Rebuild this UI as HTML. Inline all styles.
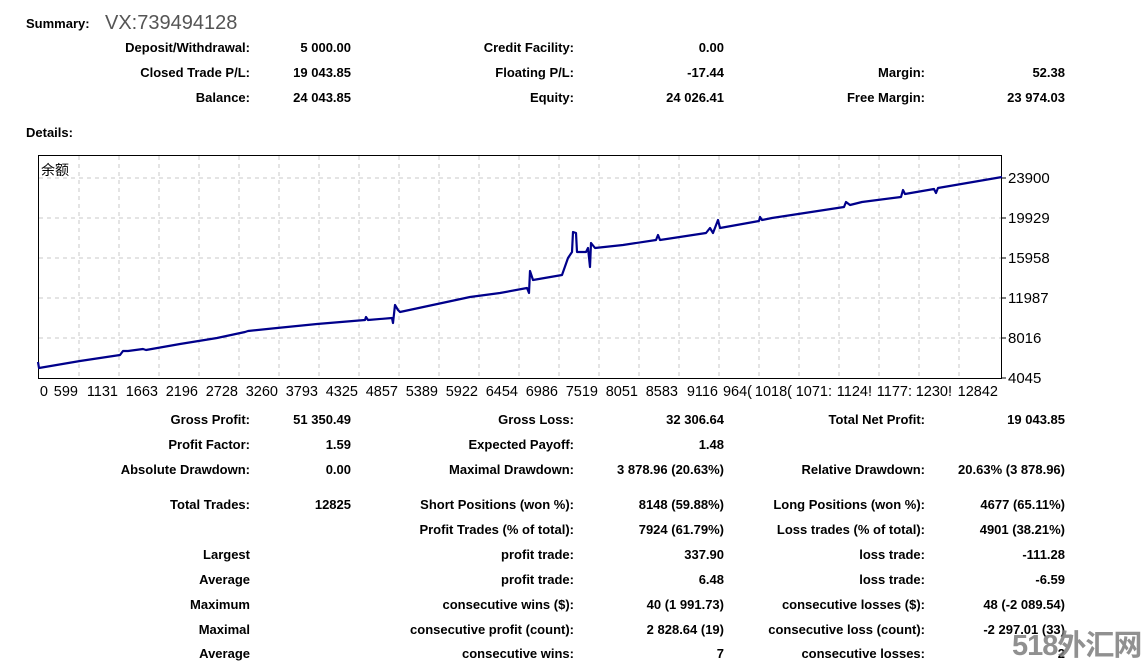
<!DOCTYPE html>
<html><head><meta charset="utf-8"><style>
body{margin:0;width:1145px;height:672px;background:#fff;position:relative;overflow:hidden;font-family:"Liberation Sans","Noto Sans CJK SC",sans-serif;color:#000}
.t{position:absolute;font-weight:bold;font-size:13px;line-height:16px;white-space:nowrap;text-align:right}
</style></head><body>
<div class="t" style="left:26px;top:16px;text-align:left">Summary:</div>
<div style="position:absolute;left:105px;top:11px;font-size:20px;line-height:24px;color:#555">VX:739494128</div>
<div class="t" style="left:26px;top:125px;text-align:left">Details:</div>

<div class="t" style="right:895px;top:40px">Deposit/Withdrawal:</div><div class="t" style="right:794px;top:40px">5 000.00</div>
<div class="t" style="right:571px;top:40px">Credit Facility:</div><div class="t" style="right:421px;top:40px">0.00</div>
<div class="t" style="right:895px;top:65px">Closed Trade P/L:</div><div class="t" style="right:794px;top:65px">19 043.85</div>
<div class="t" style="right:571px;top:65px">Floating P/L:</div><div class="t" style="right:421px;top:65px">-17.44</div>
<div class="t" style="right:220px;top:65px">Margin:</div><div class="t" style="right:80px;top:65px">52.38</div>
<div class="t" style="right:895px;top:90px">Balance:</div><div class="t" style="right:794px;top:90px">24 043.85</div>
<div class="t" style="right:571px;top:90px">Equity:</div><div class="t" style="right:421px;top:90px">24 026.41</div>
<div class="t" style="right:220px;top:90px">Free Margin:</div><div class="t" style="right:80px;top:90px">23 974.03</div>

<svg style="position:absolute;left:0;top:0" width="1145" height="400" font-family="Liberation Sans, Noto Sans CJK SC, sans-serif">
<g stroke="#c8c8c8" stroke-dasharray="4,4" stroke-width="1">
<line x1="79" y1="156" x2="79" y2="378"/><line x1="119" y1="156" x2="119" y2="378"/><line x1="159" y1="156" x2="159" y2="378"/><line x1="199" y1="156" x2="199" y2="378"/><line x1="239" y1="156" x2="239" y2="378"/><line x1="279" y1="156" x2="279" y2="378"/><line x1="319" y1="156" x2="319" y2="378"/><line x1="359" y1="156" x2="359" y2="378"/><line x1="399" y1="156" x2="399" y2="378"/><line x1="439" y1="156" x2="439" y2="378"/><line x1="479" y1="156" x2="479" y2="378"/><line x1="519" y1="156" x2="519" y2="378"/><line x1="559" y1="156" x2="559" y2="378"/><line x1="599" y1="156" x2="599" y2="378"/><line x1="639" y1="156" x2="639" y2="378"/><line x1="679" y1="156" x2="679" y2="378"/><line x1="719" y1="156" x2="719" y2="378"/><line x1="759" y1="156" x2="759" y2="378"/><line x1="799" y1="156" x2="799" y2="378"/><line x1="839" y1="156" x2="839" y2="378"/><line x1="879" y1="156" x2="879" y2="378"/><line x1="919" y1="156" x2="919" y2="378"/><line x1="959" y1="156" x2="959" y2="378"/>
<line x1="39" y1="178" x2="1001" y2="178"/><line x1="39" y1="218" x2="1001" y2="218"/><line x1="39" y1="258" x2="1001" y2="258"/><line x1="39" y1="298" x2="1001" y2="298"/><line x1="39" y1="338" x2="1001" y2="338"/>
</g>
<rect x="38.5" y="155.5" width="963" height="223" fill="none" stroke="#000" stroke-width="1"/>
<g stroke="#000"><line x1="1002" y1="178" x2="1006" y2="178"/><line x1="1002" y1="218" x2="1006" y2="218"/><line x1="1002" y1="258" x2="1006" y2="258"/><line x1="1002" y1="298" x2="1006" y2="298"/><line x1="1002" y1="338" x2="1006" y2="338"/><line x1="1002" y1="378" x2="1006" y2="378"/></g>
<text x="41" y="175" font-size="14">余额</text>
<polyline fill="none" stroke="#00008b" stroke-width="2.2" stroke-linejoin="round" points="38,362 39,368 80,361 120,355 123,351 128,351 143,349 146,350 180,344 217,338 245,332 248,331 277,328 317,324 365,320 366,317 368,320 392,318 393,323 395,305 398,310 400,312 470,297 500,293 527,288 529,293 530,271 533,280 562,275 568,258 572,252 573,232 576,233 577,252 586,252 588,248 590,267 591,243 595,248 623,245 656,240 658,235 660,240 706,233 710,228 713,233 718,220 720,228 759,221 760,217 762,220 772,218 844,207 846,202 850,205 862,202 901,197 903,190 905,194 934,189 936,193 938,188 1002,177"/>
<g font-size="15" fill="#000">
<text x="1008" y="183">23900</text><text x="1008" y="223">19929</text><text x="1008" y="263">15958</text><text x="1008" y="303">11987</text><text x="1008" y="343">8016</text><text x="1008" y="383">4045</text>
</g>
<g font-size="14.5" fill="#000" text-anchor="end">
<text x="48" y="396">0</text><text x="78" y="396">599</text><text x="118" y="396">1131</text><text x="158" y="396">1663</text><text x="198" y="396">2196</text><text x="238" y="396">2728</text><text x="278" y="396">3260</text><text x="318" y="396">3793</text><text x="358" y="396">4325</text><text x="398" y="396">4857</text><text x="438" y="396">5389</text><text x="478" y="396">5922</text><text x="518" y="396">6454</text><text x="558" y="396">6986</text><text x="598" y="396">7519</text><text x="638" y="396">8051</text><text x="678" y="396">8583</text><text x="718" y="396">9116</text><text x="752" y="396">964(</text><text x="792" y="396">1018(</text><text x="832" y="396">1071:</text><text x="872" y="396">1124!</text><text x="912" y="396">1177:</text><text x="952" y="396">1230!</text><text x="998" y="396">12842</text>
</g>
</svg>

<div class="t" style="right:895px;top:412px">Gross Profit:</div><div class="t" style="right:794px;top:412px">51 350.49</div>
<div class="t" style="right:571px;top:412px">Gross Loss:</div><div class="t" style="right:421px;top:412px">32 306.64</div>
<div class="t" style="right:220px;top:412px">Total Net Profit:</div><div class="t" style="right:80px;top:412px">19 043.85</div>
<div class="t" style="right:895px;top:437px">Profit Factor:</div><div class="t" style="right:794px;top:437px">1.59</div>
<div class="t" style="right:571px;top:437px">Expected Payoff:</div><div class="t" style="right:421px;top:437px">1.48</div>
<div class="t" style="right:895px;top:462px">Absolute Drawdown:</div><div class="t" style="right:794px;top:462px">0.00</div>
<div class="t" style="right:571px;top:462px">Maximal Drawdown:</div><div class="t" style="right:421px;top:462px">3 878.96 (20.63%)</div>
<div class="t" style="right:220px;top:462px">Relative Drawdown:</div><div class="t" style="right:80px;top:462px">20.63% (3 878.96)</div>

<div class="t" style="right:895px;top:497px">Total Trades:</div><div class="t" style="right:794px;top:497px">12825</div>
<div class="t" style="right:571px;top:497px">Short Positions (won %):</div><div class="t" style="right:421px;top:497px">8148 (59.88%)</div>
<div class="t" style="right:220px;top:497px">Long Positions (won %):</div><div class="t" style="right:80px;top:497px">4677 (65.11%)</div>
<div class="t" style="right:571px;top:522px">Profit Trades (% of total):</div><div class="t" style="right:421px;top:522px">7924 (61.79%)</div>
<div class="t" style="right:220px;top:522px">Loss trades (% of total):</div><div class="t" style="right:80px;top:522px">4901 (38.21%)</div>

<div class="t" style="right:895px;top:547px">Largest</div>
<div class="t" style="right:571px;top:547px">profit trade:</div><div class="t" style="right:421px;top:547px">337.90</div>
<div class="t" style="right:220px;top:547px">loss trade:</div><div class="t" style="right:80px;top:547px">-111.28</div>
<div class="t" style="right:895px;top:572px">Average</div>
<div class="t" style="right:571px;top:572px">profit trade:</div><div class="t" style="right:421px;top:572px">6.48</div>
<div class="t" style="right:220px;top:572px">loss trade:</div><div class="t" style="right:80px;top:572px">-6.59</div>
<div class="t" style="right:895px;top:597px">Maximum</div>
<div class="t" style="right:571px;top:597px">consecutive wins ($):</div><div class="t" style="right:421px;top:597px">40 (1 991.73)</div>
<div class="t" style="right:220px;top:597px">consecutive losses ($):</div><div class="t" style="right:80px;top:597px">48 (-2 089.54)</div>
<div class="t" style="right:895px;top:622px">Maximal</div>
<div class="t" style="right:571px;top:622px">consecutive profit (count):</div><div class="t" style="right:421px;top:622px">2 828.64 (19)</div>
<div class="t" style="right:220px;top:622px">consecutive loss (count):</div><div class="t" style="right:80px;top:622px">-2 297.01 (33)</div>
<div class="t" style="right:895px;top:646px">Average</div>
<div class="t" style="right:571px;top:646px">consecutive wins:</div><div class="t" style="right:421px;top:646px">7</div>
<div class="t" style="right:220px;top:646px">consecutive losses:</div><div class="t" style="right:80px;top:646px">2</div>

<div style="position:absolute;left:1012px;top:628px;font-size:29px;line-height:36px;font-weight:bold;white-space:nowrap;color:rgba(125,125,125,0.85);font-family:'Liberation Sans','Noto Sans CJK SC',sans-serif;letter-spacing:-1px">518外汇网</div>
</body></html>
